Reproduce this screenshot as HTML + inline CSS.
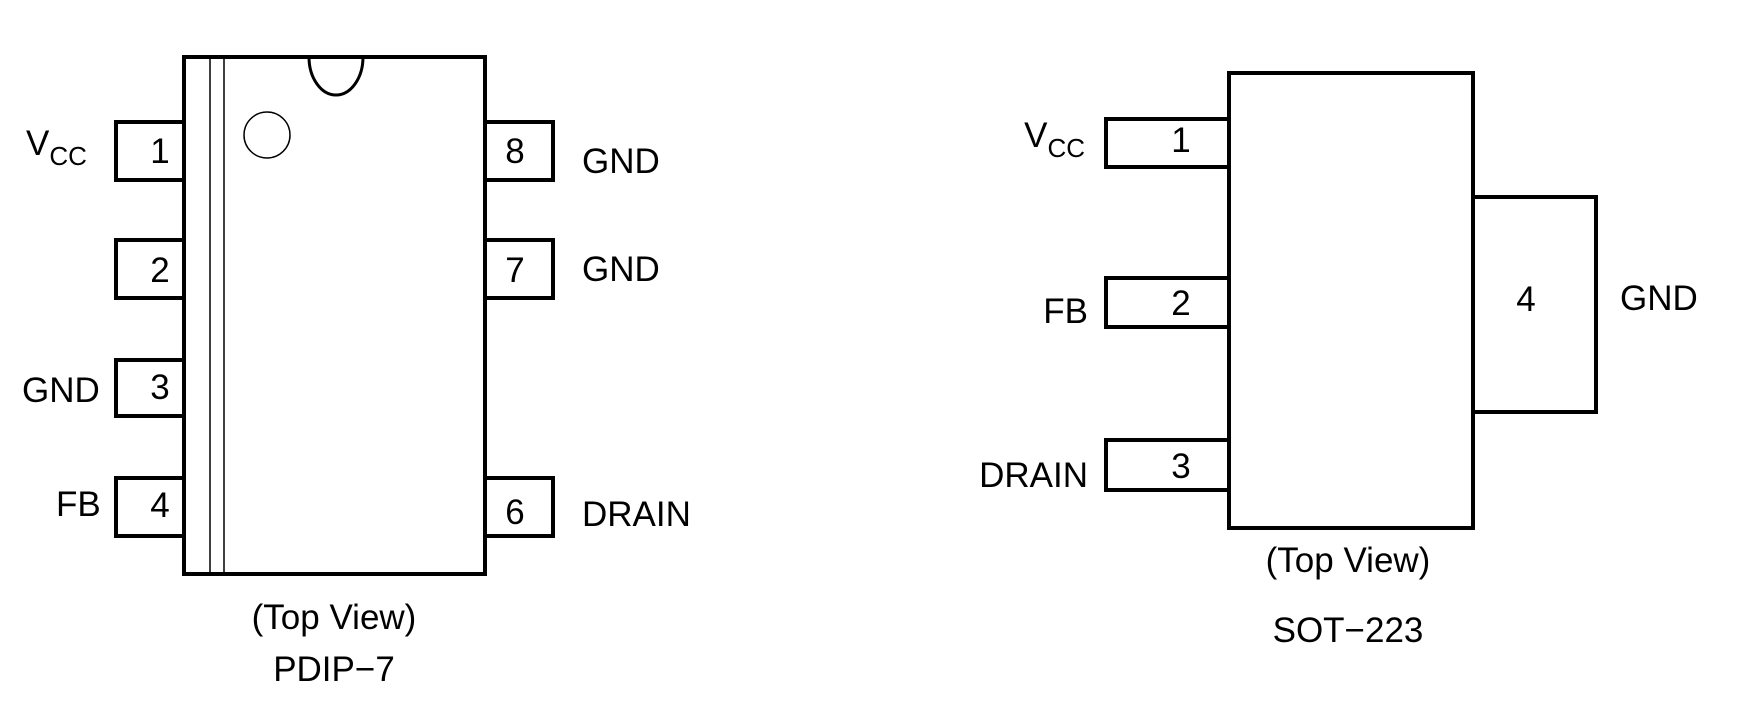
<!DOCTYPE html>
<html><head><style>html,body{margin:0;padding:0;background:#fff;}svg{display:block}</style></head>
<body>
<svg width="1738" height="705" viewBox="0 0 1738 705" xmlns="http://www.w3.org/2000/svg" font-family="Liberation Sans, sans-serif" font-size="35" fill="#000">
<rect width="1738" height="705" fill="#fff"/>
<g fill="none" stroke="#000" stroke-width="4">
  <rect x="184" y="57" width="301" height="517"/>
  <polyline points="184,122 116,122 116,180 184,180"/>
  <polyline points="184,240 116,240 116,298 184,298"/>
  <polyline points="184,360 116,360 116,416 184,416"/>
  <polyline points="184,478 116,478 116,536 184,536"/>
  <polyline points="485,122 553,122 553,180 485,180"/>
  <polyline points="485,240 553,240 553,298 485,298"/>
  <polyline points="485,478 553,478 553,536 485,536"/>
  <path d="M309,57 A27,38 0 0 0 363,57" stroke-width="3"/>
  <rect x="1229" y="73" width="244" height="455"/>
  <polyline points="1229,119 1106,119 1106,167 1229,167"/>
  <polyline points="1229,278 1106,278 1106,327 1229,327"/>
  <polyline points="1229,440 1106,440 1106,490 1229,490"/>
  <polyline points="1473,197 1596,197 1596,412 1473,412"/>
</g>
<g fill="none" stroke="#000" stroke-width="1.5">
  <line x1="210" y1="57" x2="210" y2="574"/>
  <line x1="224" y1="57" x2="224" y2="574"/>
  <ellipse cx="267" cy="135" rx="23" ry="23"/>
</g>
<g text-anchor="middle">
  <text x="160" y="163">1</text>
  <text x="160" y="282">2</text>
  <text x="160" y="399">3</text>
  <text x="160" y="517">4</text>
  <text x="515" y="163">8</text>
  <text x="515" y="282">7</text>
  <text x="515" y="524">6</text>
  <text x="334" y="629">(Top View)</text>
  <text x="334" y="681">PDIP−7</text>
  <text x="1181" y="152">1</text>
  <text x="1181" y="315">2</text>
  <text x="1181" y="478">3</text>
  <text x="1526" y="311">4</text>
  <text x="1348" y="572">(Top View)</text>
  <text x="1348" y="642">SOT−223</text>
</g>
<text x="26" y="155">V<tspan font-size="26" dy="10">CC</tspan></text>
<text x="22" y="402">GND</text>
<text x="56" y="516">FB</text>
<text x="582" y="173">GND</text>
<text x="582" y="281">GND</text>
<text x="582" y="526">DRAIN</text>
<g text-anchor="end">
  <text x="1085" y="147">V<tspan font-size="26" dy="10">CC</tspan></text>
  <text x="1088" y="323">FB</text>
  <text x="1088" y="487">DRAIN</text>
</g>
<text x="1620" y="310">GND</text>
</svg>
</body></html>
